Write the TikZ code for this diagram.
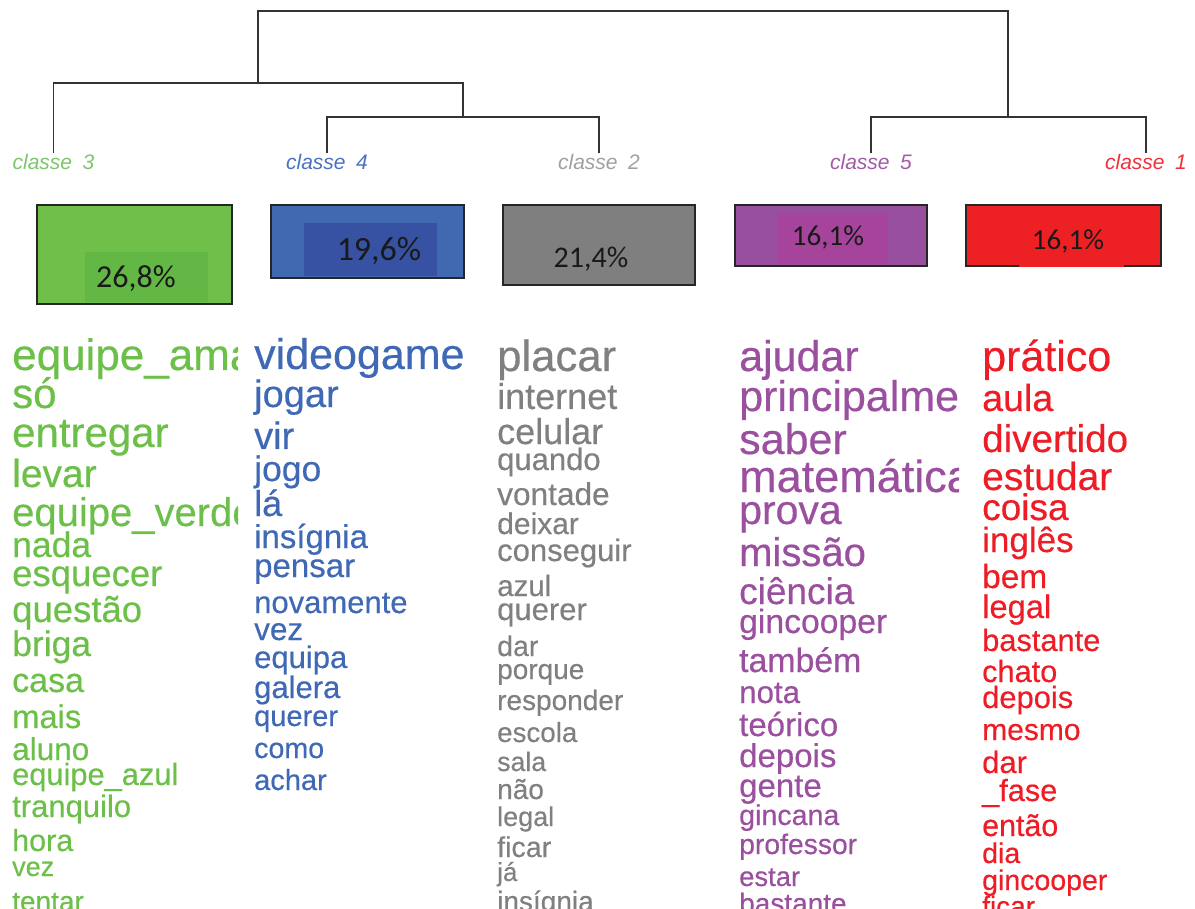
\documentclass[tikz,border=0pt]{standalone}
\usepackage{fontspec}
\setmainfont{Liberation Sans}
\newfontfamily\pctfont{Carlito}
\newfontfamily\wordfont[FakeBold=0.4]{Liberation Sans}

% word colours per class
\definecolor{wgreen}{HTML}{6CC04A}
\definecolor{wblue}{HTML}{3F68B5}
\definecolor{wgray}{HTML}{808080}
\definecolor{wpurple}{HTML}{9B4F9F}
\definecolor{wred}{HTML}{EE1C25}
% class label colours
\definecolor{lgreen}{HTML}{7CC66A}
\definecolor{lblue}{HTML}{4A72C0}
\definecolor{lgray}{HTML}{A0A0A0}
\definecolor{lpurple}{HTML}{A35AA8}
\definecolor{lred}{HTML}{F0303A}
% box fills
\definecolor{bgreen}{HTML}{71BF4B}
\definecolor{bgreenin}{HTML}{63B845}
\definecolor{bblue}{HTML}{4169B2}
\definecolor{bbluein}{HTML}{3852A3}
\definecolor{bgray}{HTML}{7F7F7F}
\definecolor{bpurple}{HTML}{984F9D}
\definecolor{bpurplein}{HTML}{A6449B}
\definecolor{bred}{HTML}{ED2024}
\definecolor{treeline}{HTML}{333333}

\begin{document}
\begin{tikzpicture}[x=1pt,y=-1pt,
  tree/.style={draw=treeline,line width=1.8pt},
  lbl/.style={inner sep=0pt,anchor=base,font=\fontsize{21}{21}\selectfont\itshape},
  pbox/.style={draw=black!85,line width=1.5pt,inner sep=0pt},
  pct/.style={inner sep=0pt,anchor=base,text=black!90},
  word/.style={inner sep=0pt,anchor=base west}]
\useasboundingbox (0,0) rectangle (1195,909);

% ---------- class labels ----------
\node[lbl,text=lgreen]  (c3) at (53.5,170) {classe\hspace{0.5em}3};
\node[lbl,text=lblue]   (c4) at (327,170)  {classe\hspace{0.5em}4};
\node[lbl,text=lgray]   (c2) at (599,170)  {classe\hspace{0.5em}2};
\node[lbl,text=lpurple] (c5) at (871,170)  {classe\hspace{0.5em}5};
\node[lbl,text=lred]    (c1) at (1146,170) {classe\hspace{0.5em}1};

% ---------- dendrogram ----------
\coordinate (k42)  at (463,117);
\coordinate (k342) at (258,83);
\coordinate (k51)  at (1008,117);
\coordinate (root) at (633,11);
\draw[tree] ([yshift=2pt]c4.north) |- (k42) -| ([yshift=2pt]c2.north);
\draw[tree] ([yshift=2pt]c3.north) |- (k342) -| (k42);
\draw[tree] ([yshift=2pt]c5.north) |- (k51) -| ([yshift=2pt]c1.north);
\draw[tree] (k342) |- (root) -| (k51);

% ---------- percentage boxes ----------
\node[pbox,fill=bgreen,minimum width=195pt,minimum height=99pt] (b3) at (134.5,254.5) {};
\fill[bgreenin] (85,252) rectangle (208,302);
\node[pct,font=\pctfont\fontsize{32}{32}\selectfont] (p3) at (136,288) {26,8\%};

\node[pbox,fill=bblue,minimum width=193pt,minimum height=73pt] (b4) at (367.5,241.5) {};
\fill[bbluein] (304,223) rectangle (437,276.5);
\node[pct,font=\pctfont\fontsize{34}{34}\selectfont] (p4) at (379,261) {19,6\%};

\node[pbox,fill=bgray,minimum width=192pt,minimum height=80pt] (b2) at (599,245) {};
\node[pct,font=\pctfont\fontsize{30}{30}\selectfont] (p2) at (591,267.5) {21,4\%};

\node[pbox,fill=bpurple,minimum width=192pt,minimum height=61pt] (b5) at (831,235.5) {};
\fill[bpurplein] (777,213) rectangle (888,264.5);
\node[pct,font=\pctfont\fontsize{29}{29}\selectfont] (p5) at (828,246) {16,1\%};

\node[pbox,fill=bred,minimum width=195pt,minimum height=61pt] (b1) at (1063.5,235.5) {};
\fill[bred] (1019,240) rectangle (1124,267.2);
\node[pct,font=\pctfont\fontsize{29}{29}\selectfont] (p1) at (1068,250) {16,1\%};

% ---------- word lists ----------
\begin{scope}
\clip (0,330) rectangle (238,909);
\foreach \s/\b/\w [count=\i] in {
  44/370/equipe\_amarela, 42/408/só, 42/447/entregar, 39/487/levar,
  40/526/equipe\_verde, 35.5/557/nada, 36.5/586/esquecer, 36.5/622/questão,
  35.5/656/briga, 34/692/casa, 32.7/728/mais, 31.5/760/aluno,
  30.8/785/equipe\_azul, 31/817/tranquilo, 30.5/851/hora, 27/876/vez,
  28/911/tentar}
  \node[word,text=wgreen,font=\wordfont\fontsize{\s}{\s}\selectfont] (g\i) at (12,\b) {\w};
\end{scope}

\begin{scope}
\clip (245,330) rectangle (490,909);
\foreach \s/\b/\w [count=\i] in {
  43/369/videogame, 38/407/jogar, 38/449/vir, 35.5/481/jogo, 36/516/lá,
  33/548/insígnia, 33/577/pensar, 31/613/novamente, 31.5/640/vez,
  31/668/equipa, 31/698/galera, 29/726/querer, 28.6/758/como, 29/790/achar}
  \node[word,text=wblue,font=\wordfont\fontsize{\s}{\s}\selectfont] (u\i) at (254,\b) {\w};
\end{scope}

\begin{scope}
\clip (490,330) rectangle (730,909);
\foreach \s/\b/\w [count=\i] in {
  43.7/371/placar, 36/409/internet, 36/444/celular, 31/470/quando,
  31.6/505/vontade, 30/534/deixar, 31/561/conseguir, 29.5/596/azul,
  31/620/querer, 28.5/656/dar, 28/679/porque, 28/710/responder,
  27.7/742/escola, 26.7/771/sala, 28/799/não, 27/826/legal,
  28.6/857/ficar, 26/881/já, 28/911/insígnia}
  \node[word,text=wgray,font=\wordfont\fontsize{\s}{\s}\selectfont] (n\i) at (497,\b) {\w};
\end{scope}

\begin{scope}
\clip (730,330) rectangle (959,909);
\foreach \s/\b/\w [count=\i] in {
  43/371/ajudar, 43/411/principalmente, 43/454/saber, 45/492/matemática,
  41/524/prova, 40/566/missão, 37/604/ciência, 33.7/633/gincooper,
  33.8/672/também, 31.3/703/nota, 33/736/teórico, 33/767/depois,
  33/797/gente, 28.6/825/gincana, 28.3/854/professor, 27.4/886/estar,
  28/913/bastante}
  \node[word,text=wpurple,font=\wordfont\fontsize{\s}{\s}\selectfont] (m\i) at (739,\b) {\w};
\end{scope}

\begin{scope}
\clip (970,330) rectangle (1195,909);
\foreach \s/\b/\w [count=\i] in {
  43/371/prático, 37.6/411/aula, 38.6/452/divertido, 39/490/estudar,
  37/520/coisa, 35/552/inglês, 33.4/588/bem, 32.7/618/legal,
  30.8/651/bastante, 30.7/682/chato, 30.9/708/depois, 30/740/mesmo,
  31/773/dar, 30.7/801/\_fase, 30.4/836/então, 28.5/863/dia,
  28.5/890/gincooper, 28/916/ficar}
  \node[word,text=wred,font=\wordfont\fontsize{\s}{\s}\selectfont] (r\i) at (982,\b) {\w};
\end{scope}
\end{tikzpicture}
\end{document}
